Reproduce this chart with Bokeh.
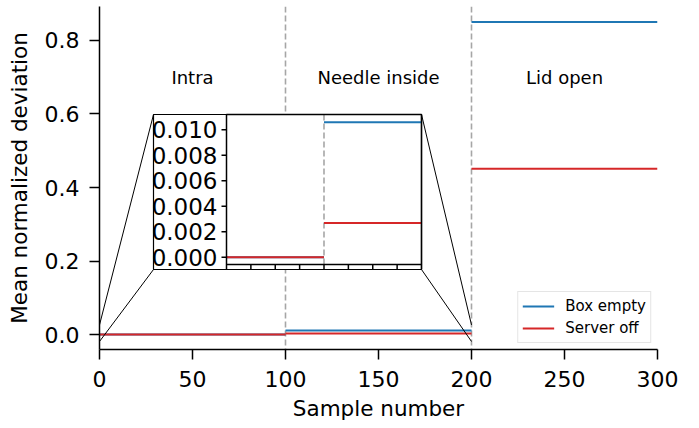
import numpy as np
from bokeh.plotting import figure
from bokeh.models import Range1d, PrintfTickFormatter, FixedTicker
from bokeh.core.properties import value
from bokeh.embed import file_html
from bokeh.resources import INLINE

# ---------------- data ----------------
PHASES = ["Intra", "Needle inside", "Lid open"]
PHASE_START = [0, 100, 200]
PHASE_END = [100, 200, 300]
PHASE_MID = [50, 150, 250]
BOX_EMPTY = [0.0, 0.0106, 0.850]
SERVER_OFF = [0.0, 0.0027, 0.451]
BOUNDARIES = [100, 200]
X_TICKS = [0, 50, 100, 150, 200, 250, 300]
Y_TICKS = [0.0, 0.2, 0.4, 0.6, 0.8]
INSET_Y_TICKS = [0.0, 0.002, 0.004, 0.006, 0.008, 0.010]
INSET_Y_LABELS = ["0.000", "0.002", "0.004", "0.006", "0.008", "0.010"]
INSET_X_TICKS = [0, 25, 50, 75, 100, 125, 150, 175, 200]
INSET_BOUNDARY = [100]
LABEL_Y = 0.70

# ---------------- layout / style ----------------
FONT = "DejaVu Sans"
BLUE = "#1f77b4"
RED = "#d62728"
GRAY = "#a6a6a6"
FRAME_W, FRAME_H = 558, 343
X_LIM = (0, 300)
Y_LIM = (-0.0408, 0.8925)
IN_L, IN_R, IN_T, IN_B = 127, 322, 108, 258   # inset axes box, px from frame top-left
IN_XLIM = (0, 200)
IN_YLIM = (-0.00056, 0.0112)
PAD_L, PAD_B = 73, 5                           # inset outer box padding (px)
ZOOM_X = (0, 200)
ZOOM_Y = (-0.019, 0.026)

p = figure(frame_width=FRAME_W, frame_height=FRAME_H,
           min_border_left=99, min_border_top=6, min_border_right=30, min_border_bottom=79,
           x_range=Range1d(*X_LIM), y_range=Range1d(*Y_LIM),
           output_backend="svg", toolbar_location=None)

# extra ranges for inset (mapped so inset axes occupy its box)
sx = (IN_XLIM[1] - IN_XLIM[0]) / (IN_R - IN_L)
sy = (IN_YLIM[1] - IN_YLIM[0]) / (IN_B - IN_T)
p.extra_x_ranges = {"ix": Range1d(IN_XLIM[0] - IN_L * sx, IN_XLIM[1] + (FRAME_W - IN_R) * sx)}
p.extra_y_ranges = {"iy": Range1d(IN_YLIM[0] - (FRAME_H - IN_B) * sy, IN_YLIM[1] + IN_T * sy)}

mx = (X_LIM[1] - X_LIM[0]) / FRAME_W
my = (Y_LIM[1] - Y_LIM[0]) / FRAME_H
def px_to_main(px, py):
    return X_LIM[0] + px * mx, Y_LIM[1] - py * my

# ---------------- main plot ----------------
p.vspan(x=BOUNDARIES, line_color=GRAY, line_width=1.6, line_dash="6 3")
p.segment(x0=PHASE_START, x1=PHASE_END, y0=BOX_EMPTY, y1=BOX_EMPTY,
          line_color=BLUE, line_width=2, legend_label="Box empty")
p.segment(x0=PHASE_START, x1=PHASE_END, y0=SERVER_OFF, y1=SERVER_OFF,
          line_color=RED, line_width=2, legend_label="Server off")
p.text(x=PHASE_MID, y=[LABEL_Y] * len(PHASES), text=PHASES,
       text_font=value(FONT), text_font_size=value("18px"), text_color="black",
       text_align="center", text_baseline="middle")

# connectors from inset box to zoom region
box_l, box_r = IN_L - PAD_L, IN_R
box_t, box_b = IN_T, IN_B + PAD_B
corners = [px_to_main(box_l, box_t), px_to_main(box_l, box_b),
           px_to_main(box_r, box_t), px_to_main(box_r, box_b)]
ends = [(ZOOM_X[0], ZOOM_Y[1]), (ZOOM_X[0], ZOOM_Y[0]),
        (ZOOM_X[1], ZOOM_Y[1]), (ZOOM_X[1], ZOOM_Y[0])]
p.segment(x0=[c[0] for c in corners], y0=[c[1] for c in corners],
          x1=[e[0] for e in ends], y1=[e[1] for e in ends],
          line_color="black", line_width=1)

# ---------------- inset ----------------
ob_l = IN_XLIM[0] - PAD_L * sx
ob_b = IN_YLIM[0] - PAD_B * sy
p.quad(left=[ob_l], right=[IN_XLIM[1]], bottom=[ob_b], top=[IN_YLIM[1]],
       fill_color="white", line_color="black", line_width=1.2,
       x_range_name="ix", y_range_name="iy")
p.segment(x0=INSET_BOUNDARY, x1=INSET_BOUNDARY, y0=[IN_YLIM[0]], y1=[IN_YLIM[1]],
          line_color=GRAY, line_width=1.6, line_dash="6 3",
          x_range_name="ix", y_range_name="iy")
p.segment(x0=PHASE_START[:2], x1=PHASE_END[:2], y0=BOX_EMPTY[:2], y1=BOX_EMPTY[:2],
          line_color=BLUE, line_width=2, x_range_name="ix", y_range_name="iy")
p.segment(x0=PHASE_START[:2], x1=PHASE_END[:2], y0=SERVER_OFF[:2], y1=SERVER_OFF[:2],
          line_color=RED, line_width=2, x_range_name="ix", y_range_name="iy")
p.quad(left=[IN_XLIM[0]], right=[IN_XLIM[1]], bottom=[IN_YLIM[0]], top=[IN_YLIM[1]],
       fill_color=None, line_color="black", line_width=1.5,
       x_range_name="ix", y_range_name="iy")
# inset y ticks + labels
p.segment(x0=[IN_XLIM[0] - 5 * sx] * len(INSET_Y_TICKS), x1=[IN_XLIM[0]] * len(INSET_Y_TICKS),
          y0=INSET_Y_TICKS, y1=INSET_Y_TICKS, line_color="black", line_width=1.5,
          x_range_name="ix", y_range_name="iy")
p.text(x=[IN_XLIM[0] - 9 * sx] * len(INSET_Y_TICKS), y=INSET_Y_TICKS, text=INSET_Y_LABELS,
       text_font=value(FONT), text_font_size=value("23px"), text_color="black",
       text_align="right", text_baseline="middle",
       x_range_name="ix", y_range_name="iy")
# inset x ticks
p.segment(x0=INSET_X_TICKS, x1=INSET_X_TICKS,
          y0=[IN_YLIM[0]] * len(INSET_X_TICKS), y1=[IN_YLIM[0] - 5 * sy] * len(INSET_X_TICKS),
          line_color="black", line_width=1.5, x_range_name="ix", y_range_name="iy")

# ---------------- axes ----------------
p.xaxis.ticker = FixedTicker(ticks=X_TICKS)
p.yaxis.ticker = FixedTicker(ticks=Y_TICKS)
p.yaxis.formatter = PrintfTickFormatter(format="%.1f")
p.xaxis.axis_label = "Sample number"
p.yaxis.axis_label = "Mean normalized deviation"
for ax in (p.xaxis, p.yaxis):
    ax.axis_line_width = 1.5
    ax.axis_line_color = "black"
    ax.major_tick_line_width = 1.5
    ax.major_tick_line_color = "black"
    ax.major_tick_out = 10
    ax.major_tick_in = 0
    ax.minor_tick_out = 0
    ax.minor_tick_in = 0
    ax.major_label_text_font = FONT
    ax.major_label_text_font_size = "22px"
    ax.major_label_text_color = "black"
    ax.axis_label_text_font = FONT
    ax.axis_label_text_font_size = "21.5px"
    ax.axis_label_text_font_style = "normal"
    ax.axis_label_text_color = "black"
p.xaxis.major_label_standoff = 11
p.yaxis.major_label_standoff = 10
p.xaxis.axis_label_standoff = 6
p.yaxis.axis_label_standoff = 10
p.xgrid.visible = False
p.ygrid.visible = False
p.outline_line_color = None

# ---------------- legend ----------------
lg = p.legend[0]
lg.location = "bottom_right"
lg.label_text_font = FONT
lg.label_text_font_size = "15px"
lg.label_text_color = "black"
lg.border_line_color = "#cccccc"
lg.border_line_width = 1
lg.background_fill_alpha = 0.8
lg.margin = 6
lg.padding = 4
lg.spacing = 2
lg.glyph_width = 32
lg.glyph_height = 20
lg.label_height = 20
lg.label_standoff = 11

open("out.html", "w").write(file_html(p, INLINE))
